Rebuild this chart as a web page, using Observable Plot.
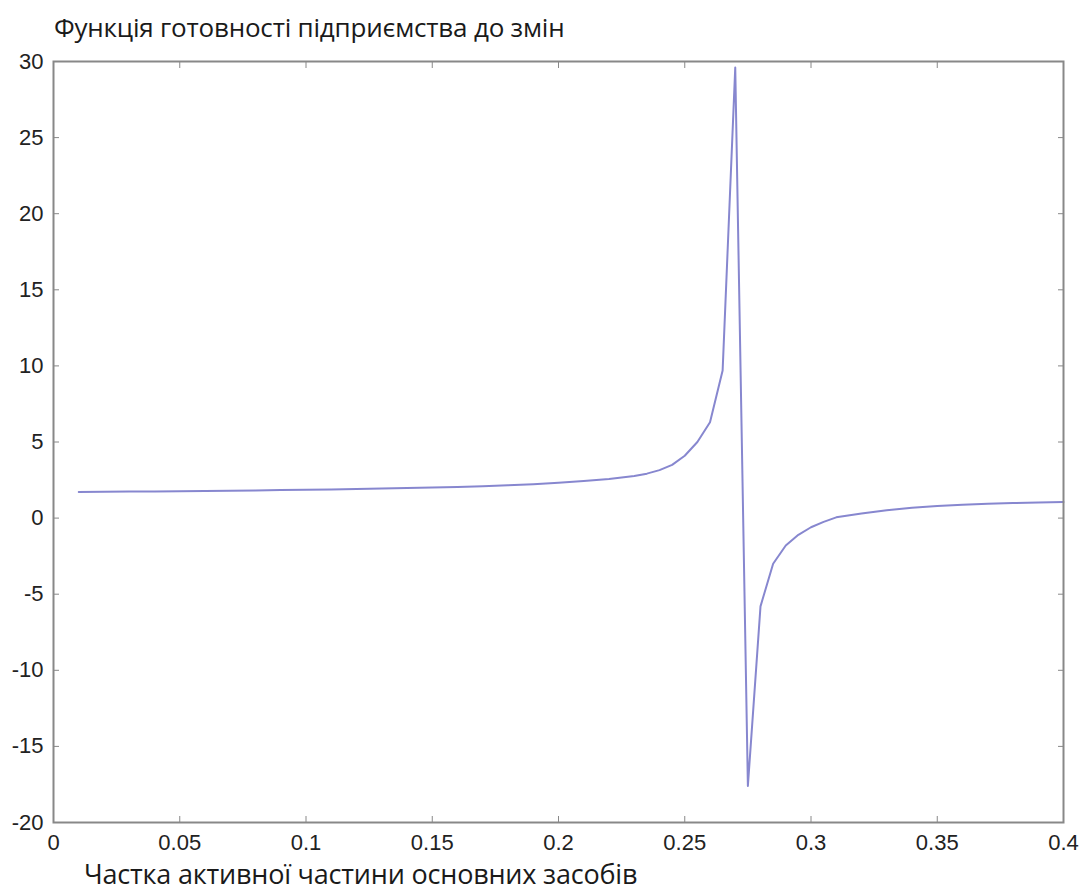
<!DOCTYPE html>
<html>
<head>
<meta charset="utf-8">
<script src="https://cdn.jsdelivr.net/npm/d3@7"></script>
<script src="https://cdn.jsdelivr.net/npm/@observablehq/plot@0.6"></script>
<style>
  html, body { margin: 0; padding: 0; background: #fff; }
  #wrap { position: relative; width: 1083px; height: 891px; overflow: hidden; }
  #title { position: absolute; left: 54px; top: 9px; font-family: "Open Sans", sans-serif; font-size: 26px; color: #1a1a1a; white-space: nowrap; letter-spacing: -0.2px; }
  #xlabel { position: absolute; left: 84px; top: 855px; font-family: "Open Sans", sans-serif; font-size: 27px; color: #1a1a1a; white-space: nowrap; letter-spacing: -0.2px; }
  #chart { position: absolute; left: 0; top: 0; }
</style>
</head>
<body>
<div id="wrap">
  <div id="chart"></div>
  <div id="title">Функція готовності підприємства до змін</div>
  <div id="xlabel">Частка активної частини основних засобів</div>
</div>
<script>
const shares = [0.01, 0.02, 0.03, 0.04, 0.05, 0.06, 0.07, 0.08, 0.09, 0.10,
  0.11, 0.12, 0.13, 0.14, 0.15, 0.16, 0.17, 0.18, 0.19, 0.20,
  0.21, 0.22, 0.23, 0.235, 0.24, 0.245, 0.25, 0.255, 0.26, 0.265,
  0.27, 0.275, 0.28, 0.285, 0.29, 0.295, 0.30, 0.305, 0.31, 0.32,
  0.33, 0.34, 0.35, 0.36, 0.37, 0.38, 0.39, 0.40];
const readiness = [1.72, 1.73, 1.74, 1.75, 1.77, 1.78, 1.80, 1.82, 1.84, 1.86,
  1.88, 1.91, 1.94, 1.97, 2.01, 2.05, 2.10, 2.16, 2.23, 2.32,
  2.43, 2.57, 2.77, 2.92, 3.15, 3.5, 4.1, 5.0, 6.3, 9.7,
  29.6, -17.6, -5.8, -3.0, -1.8, -1.1, -0.6, -0.25, 0.05, 0.3,
  0.52, 0.68, 0.8, 0.88, 0.94, 0.99, 1.03, 1.06];
const xTicks = [0, 0.05, 0.1, 0.15, 0.2, 0.25, 0.3, 0.35, 0.4];
const yTicks = [-20, -15, -10, -5, 0, 5, 10, 15, 20, 25, 30];

const data = shares.map((x, i) => ({x, y: readiness[i]}));

const fmt = d => String(d);
const plot = Plot.plot({
  width: 1083,
  height: 891,
  marginLeft: 53,
  marginRight: 20,
  marginTop: 61,
  marginBottom: 69,
  style: {fontFamily: "'Liberation Sans', Arial, sans-serif", fontSize: "22px", color: "#222", background: "#fff"},
  x: {domain: [0, 0.4]},
  y: {domain: [-20, 30]},
  marks: [
    Plot.line(data, {x: "x", y: "y", stroke: "#8787cf", strokeWidth: 2}),
    Plot.axisX(xTicks, {anchor: "bottom", tickSize: -6, tickPadding: 18, tickFormat: fmt, stroke: "#888", label: null}),
    Plot.axisX(xTicks, {anchor: "top", tickSize: -6, tickFormat: () => "", stroke: "#888", label: null}),
    Plot.axisY(yTicks, {anchor: "left", tickSize: -6, tickPadding: 16, tickFormat: fmt, stroke: "#888", label: null}),
    Plot.axisY(yTicks, {anchor: "right", tickSize: -6, tickFormat: () => "", stroke: "#888", label: null}),
    Plot.frame({stroke: "#888", strokeWidth: 2})
  ]
});
document.getElementById("chart").appendChild(plot);
</script>
</body>
</html>
